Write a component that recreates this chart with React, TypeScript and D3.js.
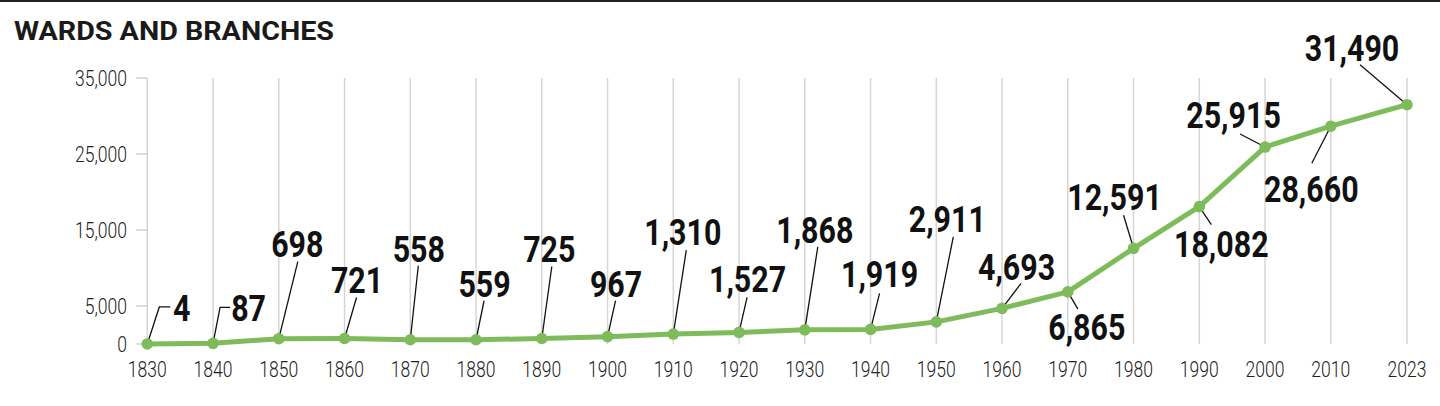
import React from "react";
import * as d3 from "d3";

const title = "WARDS AND BRANCHES";
const years = [1830, 1840, 1850, 1860, 1870, 1880, 1890, 1900, 1910, 1920, 1930, 1940, 1950, 1960, 1970, 1980, 1990, 2000, 2010, 2023];
const units = [4, 87, 698, 721, 558, 559, 725, 967, 1310, 1527, 1868, 1919, 2911, 4693, 6865, 12591, 18082, 25915, 28660, 31490];
const yTicks = [0, 5000, 15000, 25000, 35000];

// annotation layout: label centre / baseline offset from the point, leader polyline offsets
const labelLayout: { tdx: number; tdy: number; leader: [number, number][] }[] = [
  { tdx: 34.5, tdy: -23, leader: [[0, 0], [12, -37], [23, -37]] },
  { tdx: 35.5, tdy: -22, leader: [[0, 0], [7, -36], [17, -36]] },
  { tdx: 18.5, tdy: -82, leader: [[0, 0], [19, -77]] },
  { tdx: 12.5, tdy: -45.5, leader: [[0, 0], [12, -41]] },
  { tdx: 8.5, tdy: -78, leader: [[0, 0], [8, -74]] },
  { tdx: 8.5, tdy: -43, leader: [[0, 0], [8, -39]] },
  { tdx: 7.5, tdy: -76.5, leader: [[0, 0], [10, -72]] },
  { tdx: 8.5, tdy: -40, leader: [[0, 0], [8, -36]] },
  { tdx: 9.5, tdy: -89, leader: [[0, 0], [13, -84]] },
  { tdx: 8.5, tdy: -40, leader: [[0, 0], [8, -35]] },
  { tdx: 10, tdy: -87, leader: [[0, 0], [13, -83]] },
  { tdx: 9, tdy: -42, leader: [[0, 0], [9, -36]] },
  { tdx: 11, tdy: -90, leader: [[0, 0], [17, -85]] },
  { tdx: 14.5, tdy: -28, leader: [[0, 0], [19, -25]] },
  { tdx: 19, tdy: 48, leader: [[0, 0], [10, 17]] },
  { tdx: -19, tdy: -38, leader: [[0, 0], [-10, -33]] },
  { tdx: 22, tdy: 50, leader: [[0, 0], [12, 18]] },
  { tdx: -31.5, tdy: -19, leader: [[0, 0], [-25, -13]] },
  { tdx: -19.5, tdy: 76, leader: [[0, 0], [-19, 37]] },
  { tdx: -55, tdy: -44, leader: [[0, 0], [-47, -40]] },
];

const W = 1440;
const H = 406;
const GREEN = "#7dbb5b";
const fmt = d3.format(",");

export default function App() {
  const x = d3.scaleLinear().domain([1830, 2010, 2023]).range([147.3, 1330.8, 1407]);
  const y = d3.scaleLinear().domain([0, 35000]).range([344, 78]);
  const line = d3
    .line<number>()
    .x((_, i) => x(years[i]))
    .y((d) => y(d));

  const labelFont = "Roboto, 'Liberation Sans', sans-serif";
  const bigSx = 0.81;
  const axSx = 0.78;

  return (
    <svg width={W} height={H} style={{ position: "absolute", left: 0, top: 0, background: "#fff" }}>
      <rect x={0} y={0} width={W} height={H} fill="#fff" />
      <rect x={0} y={0} width={W} height={2} fill="#222" />
      <text x={14} y={40} fontFamily={labelFont} fontWeight={700} fontSize={25} fill="#1a1a1a" textLength={320} lengthAdjust="spacingAndGlyphs">
        {title}
      </text>

      {/* vertical gridlines */}
      {years.map((yr) => (
        <line key={"g" + yr} x1={x(yr)} x2={x(yr)} y1={y(35000)} y2={y(0)} stroke="#d6d6d6" strokeWidth={1.5} />
      ))}

      {/* y ticks */}
      {yTicks.map((t) => (
        <g key={"y" + t}>
          <line x1={x(1830) - 11} x2={x(1830)} y1={y(t)} y2={y(t)} stroke="#d0d0d0" strokeWidth={1.5} />
          <text
            transform={`translate(127,${y(t) + 8}) scale(${axSx},1)`}
            textAnchor="end"
            fontFamily={labelFont}
            fontWeight={300}
            fontSize={22.5}
            fill="#222"
          >
            {fmt(t)}
          </text>
        </g>
      ))}

      {/* x labels */}
      {years.map((yr) => (
        <text
          key={"x" + yr}
          transform={`translate(${x(yr)},377) scale(${axSx},1)`}
          textAnchor="middle"
          fontFamily={labelFont}
          fontWeight={300}
          fontSize={22.5}
          fill="#222"
        >
          {yr}
        </text>
      ))}

      {/* leaders */}
      {units.map((v, i) => {
        const px = x(years[i]);
        const py = y(v);
        const pts = labelLayout[i].leader.map(([dx, dy]) => [px + dx, py + dy] as [number, number]);
        return (
          <path key={"l" + i} d={d3.line()(pts) || ""} fill="none" stroke="#111" strokeWidth={1.3} />
        );
      })}

      {/* line */}
      <path d={line(units) || ""} fill="none" stroke={GREEN} strokeWidth={5} strokeLinejoin="round" />
      {units.map((v, i) => (
        <circle key={"c" + i} cx={x(years[i])} cy={y(v)} r={5.8} fill={GREEN} />
      ))}

      {/* value labels */}
      {units.map((v, i) => {
        const px = x(years[i]);
        const py = y(v);
        const L = labelLayout[i];
        return (
          <text
            key={"t" + i}
            transform={`translate(${px + L.tdx},${py + L.tdy}) scale(${bigSx},1)`}
            textAnchor="middle"
            fontFamily={labelFont}
            fontWeight={700}
            fontSize={37.5}
            fill="#111"
          >
            {fmt(v)}
          </text>
        );
      })}
    </svg>
  );
}
